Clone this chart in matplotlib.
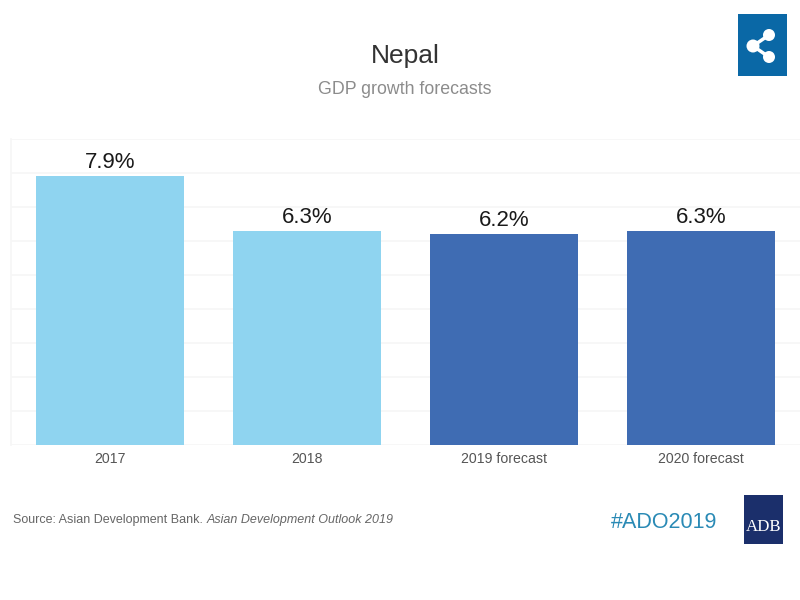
# coding: utf-8
import matplotlib.pyplot as plt
from matplotlib.patches import Rectangle, Circle

plt.rcParams['font.family'] = ['Liberation Sans', 'DejaVu Sans']

# Chart data
categories = ['2017', '2018', '2019 forecast', '2020 forecast']
growth = [7.9, 6.3, 6.2, 6.3]
labels = ['7.9%', '6.3%', '6.2%', '6.3%']
colors = ['#8fd4f0', '#8fd4f0', '#3f6cb3', '#3f6cb3']
grid_ticks = [0, 1, 2, 3, 4, 5, 6, 7, 8, 9]

W, H = 800, 600

fig = plt.figure(figsize=(W / 100, H / 100), dpi=100, facecolor='white')

# Main axes
ax = fig.add_axes([11 / W, (H - 445) / H, 789 / W, 306 / H])
ax.bar(range(len(growth)), growth, width=0.751, color=colors, zorder=3)
for i, v in enumerate(growth):
    ax.text(i, v + 0.09, labels[i], ha='center', va='bottom', fontsize=16,
            color='#1a1a1a', zorder=4)

ax.set_xlim(-0.5025, 3.5025)
ax.set_ylim(0, 9)
ax.set_yticks(grid_ticks)
ax.set_yticklabels([])
ax.set_xticks(range(len(categories)))
ax.set_xticklabels(categories, fontsize=10.2, color='#555555')
ax.tick_params(axis='both', length=0, pad=5)
ax.grid(axis='y', color='#f6f6f6', linewidth=1.2, zorder=0)
for side in ['top', 'right', 'bottom']:
    ax.spines[side].set_visible(False)
ax.spines['left'].set_color('#f6f6f6')
ax.spines['left'].set_linewidth(1.2)

# Overlay in pixel coordinates for titles, footer and logos
over = fig.add_axes([0, 0, 1, 1], zorder=5)
over.set_xlim(0, W)
over.set_ylim(H, 0)
over.axis('off')

over.text(405, 55.5, 'Nepal', ha='center', va='center', fontsize=19, color='#333333')
over.text(405, 90, 'GDP growth forecasts', ha='center', va='center', fontsize=12.8,
          color='#8c8c8c')

over.text(13, 520, 'Source: Asian Development Bank. ', ha='left', va='center',
          fontsize=9, color='#666666')
over.text(207, 520, 'Asian Development Outlook 2019', ha='left', va='center',
          fontsize=9, style='italic', color='#666666')

over.text(664.5, 522, '#ADO2019', ha='center', va='center', fontsize=15.5, color='#2a8ab5')

# ADB logo
over.add_patch(Rectangle((744, 495), 39, 49, color='#1b2f6b', lw=0))
over.text(764, 527, 'ADB', ha='center', va='center', fontsize=12.2,
          family='Liberation Serif', color='white')

# Share button
over.add_patch(Rectangle((738, 14), 49, 62, color='#0a68a6', lw=0))
over.plot([753, 769], [46, 35], color='white', lw=2.5)
over.plot([753, 769], [46, 57], color='white', lw=2.5)
over.add_patch(Circle((753, 46), 6.5, color='white', lw=0))
over.add_patch(Circle((769, 35), 6, color='white', lw=0))
over.add_patch(Circle((769, 57), 6, color='white', lw=0))

fig.savefig('out.png', dpi=100)
